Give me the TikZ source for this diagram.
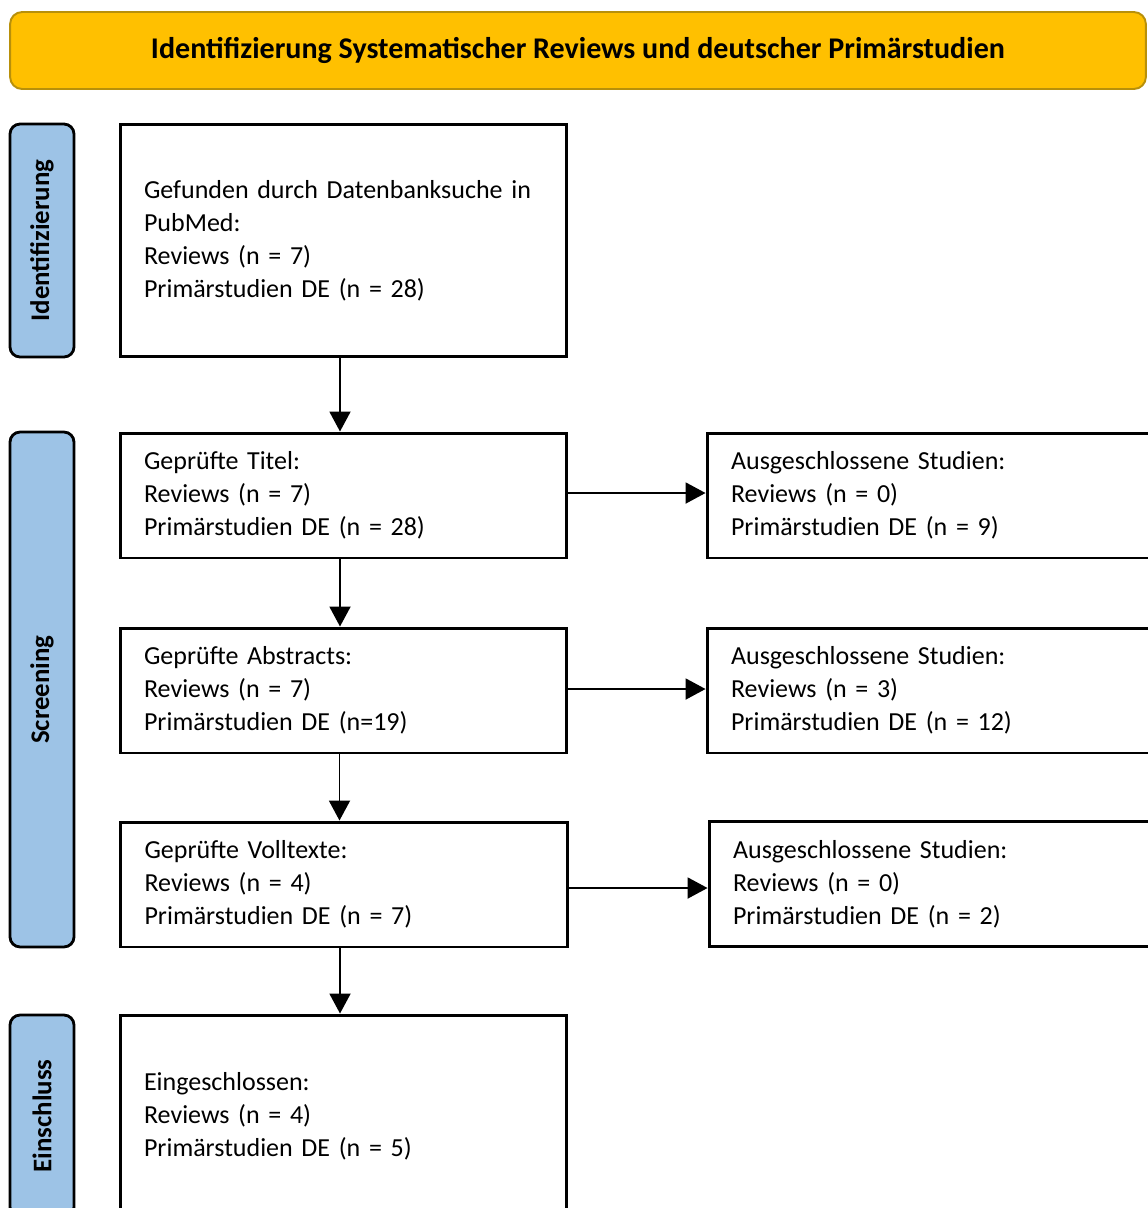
\documentclass[tikz,border=0pt]{standalone}
\usepackage{fontspec}
\setmainfont{Carlito}
\usetikzlibrary{arrows.meta}
\definecolor{bannerfill}{HTML}{FFC000}
\definecolor{bannerline}{HTML}{B8900A}
\definecolor{phasefill}{HTML}{9DC3E6}
\begin{document}
\begin{tikzpicture}[x=0.02cm, y=-0.02cm,
    every node/.style={font=\fontsize{14.8}{18.7}\selectfont},
    banner/.style={draw=bannerline, fill=bannerfill, line width=1.1pt, rounded corners=0.24cm,
        minimum width=22.72cm, minimum height=1.54cm, font=\fontsize{17.1}{20}\selectfont\bfseries},
    phase/.style={draw, fill=phasefill, line width=1.6pt, rounded corners=0.2cm, rotate=90,
        minimum height=1.28cm, font=\fontsize{15.3}{18.7}\selectfont\bfseries},
    stage/.style={draw, line width=1.7pt, minimum width=8.94cm, text width=7.98cm,
        inner xsep=0.48cm, align=left},
    flow/.style={line width=1.1pt, -{Triangle[length=0.4cm, width=0.42cm]}}]

    \useasboundingbox (0,0) rectangle (1148,1208);
    \clip (0,0) rectangle (1148,1208);

    \node[banner] (title) at (578,50.5) {Identifizierung Systematischer Reviews und deutscher Primärstudien};

    \node[phase, minimum width=4.66cm] (ident) at (42,240.5) {Identifizierung};
    \node[phase, minimum width=10.3cm] (screen) at (42,689.5) {Screening};
    \node[phase, minimum width=4.04cm] (incl) at (42,1116) {Einschluss};

    \node[stage, minimum height=4.66cm] (found) at (343.5,240.5)
        {Gefunden durch Datenbanksuche in\\PubMed:\\Reviews (n = 7)\\Primärstudien DE (n = 28)};
    \node[stage, minimum height=2.5cm] (titles) at (343.5,495.5)
        {Geprüfte Titel:\\Reviews (n = 7)\\Primärstudien DE (n = 28)};
    \node[stage, minimum height=2.5cm] (abstracts) at (343.5,690.5)
        {Geprüfte Abstracts:\\Reviews (n = 7)\\Primärstudien DE (n=19)};
    \node[stage, minimum height=2.5cm] (fulltexts) at (344,884.5)
        {Geprüfte Volltexte:\\Reviews (n = 4)\\Primärstudien DE (n = 7)};
    \node[stage, minimum height=4.04cm] (included) at (343.5,1116)
        {Eingeschlossen:\\Reviews (n = 4)\\Primärstudien DE (n = 5)};

    \node[stage, minimum height=2.5cm] (excltitles) at (930.5,495.5)
        {Ausgeschlossene Studien:\\Reviews (n = 0)\\Primärstudien DE (n = 9)};
    \node[stage, minimum height=2.5cm] (exclabstracts) at (930.5,690.5)
        {Ausgeschlossene Studien:\\Reviews (n = 3)\\Primärstudien DE (n = 12)};
    \node[stage, minimum height=2.5cm] (exclfulltexts) at (932.5,884)
        {Ausgeschlossene Studien:\\Reviews (n = 0)\\Primärstudien DE (n = 2)};

    \draw[flow] ([xshift=-0.07cm]found.south) -- ([xshift=-0.07cm]titles.north);
    \draw[flow] ([xshift=-0.07cm]titles.south) -- ([xshift=-0.07cm]abstracts.north);
    \draw[flow] ([xshift=-0.08cm]abstracts.south) -- ([xshift=-0.08cm]abstracts.south |- fulltexts.north);
    \draw[flow] ([xshift=-0.08cm]fulltexts.south) -- ([xshift=-0.08cm]fulltexts.south |- included.north);

    \draw[flow] ([yshift=0.05cm]titles.east) -- ([yshift=0.05cm]excltitles.west);
    \draw[flow] ([yshift=0.03cm]abstracts.east) -- ([yshift=0.03cm]exclabstracts.west);
    \draw[flow] ([yshift=-0.07cm]fulltexts.east) -- ([yshift=-0.07cm]exclfulltexts.west |- fulltexts.east);
\end{tikzpicture}
\end{document}
